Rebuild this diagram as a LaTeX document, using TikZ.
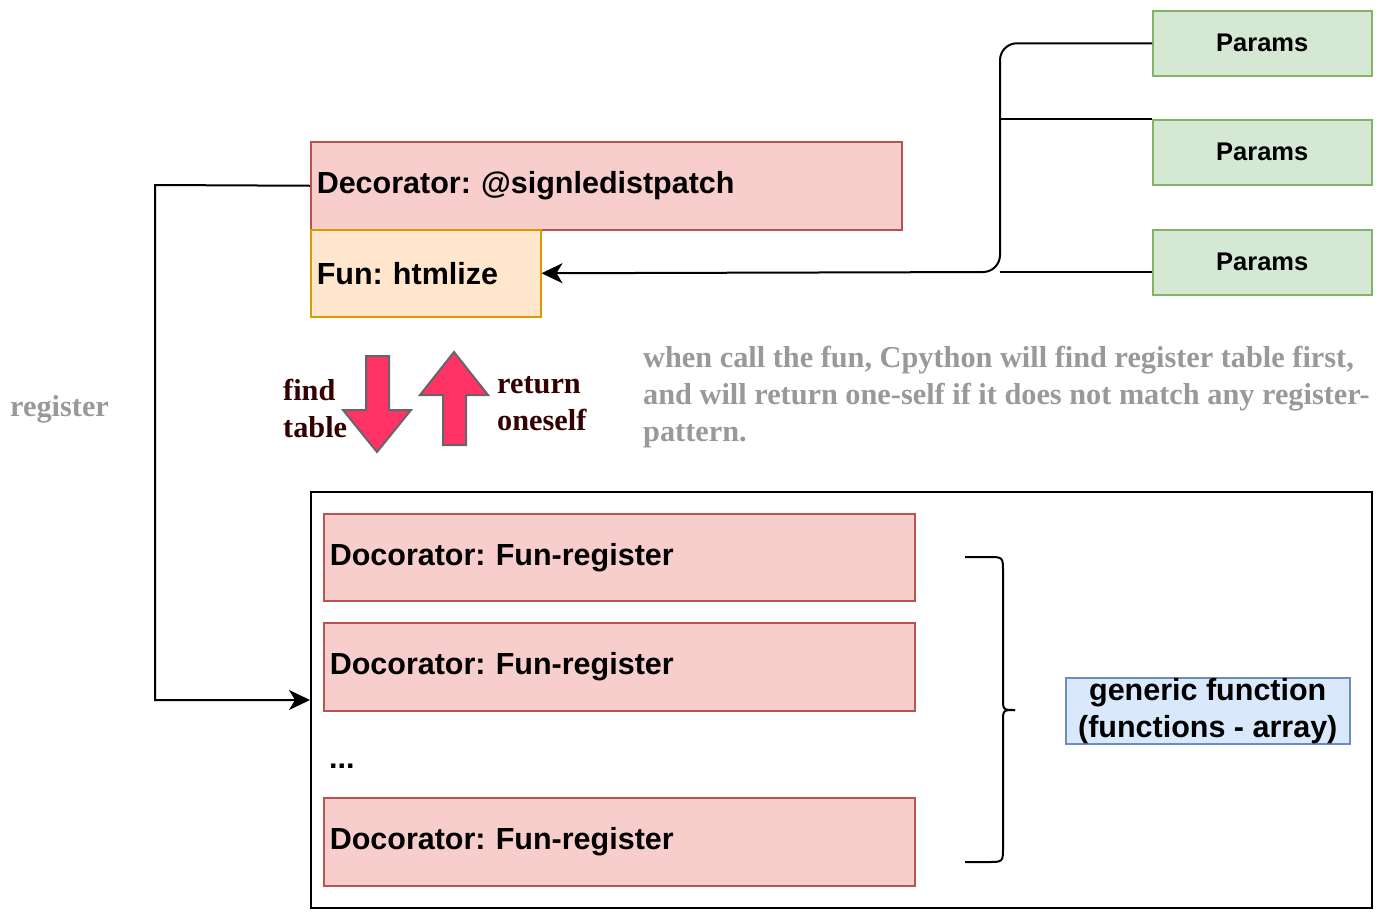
\documentclass[tikz,border=0pt]{standalone}
\usepackage{fontspec}
\setmainfont{Liberation Serif}
\setsansfont{Liberation Sans}
\usetikzlibrary{arrows.meta}

\definecolor{redfill}{HTML}{F8CECC}
\definecolor{redline}{HTML}{B85450}
\definecolor{orangefill}{HTML}{FFE6CC}
\definecolor{orangeline}{HTML}{D79B00}
\definecolor{greenfill}{HTML}{D5E8D4}
\definecolor{greenline}{HTML}{82B366}
\definecolor{bluefill}{HTML}{DAE8FC}
\definecolor{blueline}{HTML}{6C8EBF}
\definecolor{arrowfill}{HTML}{FF3366}
\definecolor{arrowline}{HTML}{666666}
\definecolor{notegray}{HTML}{999999}
\definecolor{maroon}{HTML}{330000}

\frenchspacing
\newcommand{\boxfont}{\sffamily\bfseries\fontsize{30.5}{37}\selectfont}
\newcommand{\notefont}{\rmfamily\bfseries\fontsize{30.3}{37}\selectfont}

\tikzset{
    box/.style={draw, line width=1.5pt, inner xsep=6pt, inner ysep=0pt,
        anchor=north west, align=left, font=\boxfont},
    decobox/.style={box, fill=redfill, draw=redline},
    funbox/.style={box, fill=orangefill, draw=orangeline},
    parambox/.style={box, fill=greenfill, draw=greenline, align=center,
        minimum width=219pt, minimum height=65pt,
        font=\sffamily\bfseries\fontsize{25.5}{30}\selectfont},
    genbox/.style={draw=blueline, fill=bluefill, line width=1.5pt, inner sep=0pt,
        align=center, minimum width=284pt, minimum height=66pt, anchor=north west,
        font=\boxfont},
    flow/.style={line width=2pt, -{Stealth[length=21pt, width=20pt, inset=6pt]}},
    line/.style={line width=2pt},
    blockarrow/.style={fill=arrowfill, draw=arrowline, line width=2pt, line join=miter},
}

\begin{document}
\begin{tikzpicture}[x=1pt, y=-1pt]
    \useasboundingbox (0,0) rectangle (1384,916);

    % params
    \node[parambox] (p1) at (1152,10) {Params};
    \node[parambox] (p2) at (1152,119) {Params};
    \node[parambox] (p3) at (1152,229) {Params};

    % decorator and function
    \node[decobox, text width=579pt, minimum height=88pt] (deco) at (310,141) {Decorator: @signledistpatch};
    \node[funbox, text width=218pt, minimum height=87pt] (fun) at (310,229) {Fun: htmlize};

    % registry
    \node[draw, line width=2pt, minimum width=1061pt, minimum height=416pt, anchor=north west] (reg) at (310,491) {};
    \node[decobox, text width=579pt, minimum height=87pt] (r1) at (323,513) {Docorator: Fun-register};
    \node[decobox, text width=579pt, minimum height=88pt] (r2) at (323,622) {Docorator: Fun-register};
    \node[font=\boxfont, anchor=base west, inner sep=0pt] (dots) at (329,768) {...};
    \node[decobox, text width=579pt, minimum height=88pt] (r3) at (323,797) {Docorator: Fun-register};
    \node[genbox] (gen) at (1065,677) {generic function\\(functions - array)};

    % connectors
    \coordinate (bus) at (1000,272);
    \coordinate (corner) at (155,185);
    \draw[flow, rounded corners=17pt] (p1.west) -| (bus) -- (fun.east);
    \draw[line] (p2.north west) -- (p2.north west -| bus);
    \draw[line] (p3.west |- bus) -- (bus);
    \draw[flow] (deco.west) -- (corner) |- (reg.west);

    % brace
    \draw[line] (965,557) -- (988,557) .. controls (1003,557) .. (1003,572) -- (1003,698)
        .. controls (1003,710) .. (1015,710);
    \draw[line] (1015,710) .. controls (1003,710) .. (1003,722) -- (1003,847)
        .. controls (1003,862) .. (988,862) -- (965,862);

    % block arrows
    \draw[blockarrow] (366,356) -- (389,356) -- (389,410) -- (411,410) -- (377,452)
        -- (343,410) -- (366,410) -- cycle;
    \draw[blockarrow] (454,352) -- (488,395) -- (466,395) -- (466,445) -- (443,445)
        -- (443,395) -- (420,395) -- cycle;

    % labels
    \node[font=\notefont, text=notegray, anchor=west, inner sep=0pt] (reglabel) at (10,409) {register};
    \node[font=\notefont, text=maroon, anchor=west, align=left, inner sep=0pt] (find) at (283,408) {find\\table};
    \node[font=\notefont, text=maroon, anchor=west, align=left, inner sep=0pt] (ret) at (497,404) {return\\oneself};
    \node[font=\notefont, text=notegray, anchor=west, align=left, inner sep=0pt] (note) at (643,397)
        {when call the fun, Cpython will find register table first,\\and will return one-self if it does not match any register-\\pattern.};
\end{tikzpicture}
\end{document}
